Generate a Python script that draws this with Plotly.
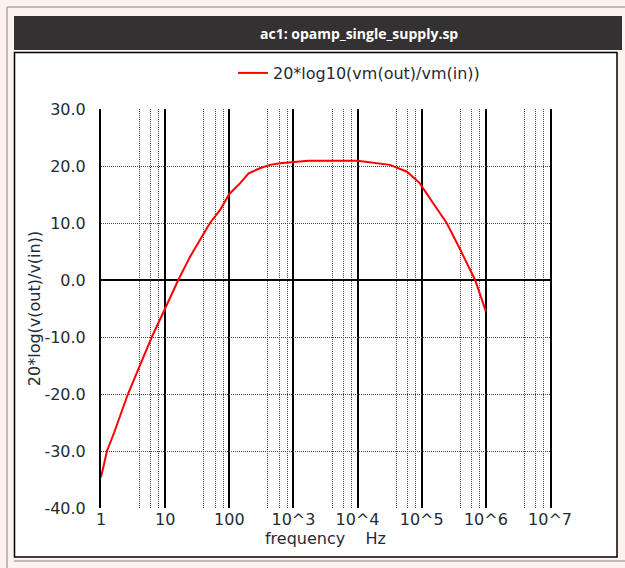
import plotly.graph_objects as go

# ---- data ----
freq_hz = [1, 1.24, 1.6, 2.63, 4.0, 6.2, 10, 16, 24.5, 35, 50, 72, 100, 148, 200,
           300, 430, 620, 1000, 1700, 10000, 15500, 32000, 59000, 93000,
           150000, 245000, 400000, 600000, 680000, 1000000]
gain_db = [-34.6, -30.0, -26.8, -20.0, -15.1, -10.0, -5.0, 0.0, 4.1, 7.0, 10.0, 12.3, 15.1, 17.0, 18.7,
           19.6, 20.2, 20.5, 20.7, 20.9, 20.9, 20.6, 20.2, 19.0, 17.0,
           13.5, 10.0, 5.3, 1.2, 0.0, -5.5]
series_name = "20*log10(vm(out)/vm(in))"

x_tickvals = [1, 10, 100, 1e3, 1e4, 1e5, 1e6, 1e7]
x_ticktext = ["1", "10", "100", "10^3", "10^4", "10^5", "10^6", "10^7"]
x_minor = [m * d for d in [1, 10, 100, 1e3, 1e4, 1e5, 1e6] for m in (4, 6, 8)]
y_tickvals = [30, 20, 10, 0, -10, -20, -30, -40]
y_ticktext = ["30.0", "20.0", "10.0", "0.0", "-10.0", "-20.0", "-30.0", "-40.0"]

W, H = 625, 568
L, R, T, B = 101, 550, 109, 508
TXT = "#1f2b38"
FONT = "DejaVu Sans"
FS = 16


def px(x):
    return (x - L) / (R - L)


def py(y):
    return (B - y) / (B - T)


fig = go.Figure()
# invisible carrier for the major-grid axis
fig.add_trace(go.Scatter(x=freq_hz, y=gain_db, mode="lines", xaxis="x", yaxis="y",
                         line=dict(color="rgba(0,0,0,0)", width=0), showlegend=False,
                         hoverinfo="skip"))
fig.add_trace(go.Scatter(x=freq_hz, y=gain_db, mode="lines", name=series_name,
                         xaxis="x2", yaxis="y",
                         line=dict(color="#ff0000", width=2), showlegend=True))

shapes = [
    dict(type="line", xref="paper", yref="paper", x0=px(7), x1=px(7), y0=py(7), y1=py(568),
         line=dict(color="#8a8683", width=1), layer="below"),
    dict(type="line", xref="paper", yref="paper", x0=px(7), x1=px(625), y0=py(7), y1=py(7),
         line=dict(color="#8a8683", width=1), layer="below"),
    dict(type="rect", xref="paper", yref="paper", x0=px(14), x1=px(622), y0=py(50), y1=py(16),
         fillcolor="#333131", line=dict(width=0), layer="below"),
    dict(type="rect", xref="paper", yref="paper", x0=px(14.5), x1=px(617), y0=py(557), y1=py(52.5),
         fillcolor="#ffffff", line=dict(color="#000000", width=1.5), layer="below"),
    dict(type="line", xref="paper", yref="paper", x0=px(14), x1=px(625), y0=py(561), y1=py(561),
         line=dict(color="#8a8683", width=1), layer="below"),
]

annotations = [
    dict(text="<b>ac1: opamp_single_supply.sp</b>", xref="paper", yref="paper",
         x=px(359), y=py(33), showarrow=False, xanchor="center", yanchor="middle",
         font=dict(family="Open Sans", size=14, color="#ffffff")),
]

fig.update_layout(
    width=W, height=H,
    margin=dict(l=L, r=W - R, t=T, b=H - B, autoexpand=False),
    paper_bgcolor="#fdf2ee",
    plot_bgcolor="#ffffff",
    font=dict(family=FONT, size=FS, color=TXT),
    shapes=shapes,
    annotations=annotations,
    showlegend=True,
    legend=dict(orientation="h", x=px(233), y=py(73), xanchor="left", yanchor="middle",
                bgcolor="rgba(0,0,0,0)", font=dict(family=FONT, size=FS, color=TXT),
                itemwidth=30),
    xaxis=dict(
        type="log", range=[0, 7],
        tickvals=x_tickvals, ticktext=x_ticktext,
        showgrid=True, gridcolor="#000000", gridwidth=2,
        zeroline=False, showline=False,
        ticks="",
        tickfont=dict(family=FONT, size=FS, color=TXT),
        title=dict(text="frequency\u00a0\u00a0\u00a0\u00a0Hz", standoff=1,
                   font=dict(family=FONT, size=FS, color=TXT)),
    ),
    xaxis2=dict(
        type="log", range=[0, 7], overlaying="x", anchor="y", side="bottom",
        tickvals=x_minor, showticklabels=False, ticks="",
        showgrid=True, gridcolor="#444444", gridwidth=1, griddash="1px,1px",
        zeroline=False, showline=False,
    ),
    yaxis=dict(
        range=[-40, 30],
        tickvals=y_tickvals, ticktext=y_ticktext,
        showgrid=True, gridcolor="#444444", gridwidth=1, griddash="1px,1px",
        zeroline=True, zerolinecolor="#000000", zerolinewidth=2,
        showline=True, linecolor="#000000", linewidth=2, mirror=True,
        ticks="outside", ticklen=10, tickcolor="rgba(0,0,0,0)",
        tickfont=dict(family=FONT, size=FS, color=TXT),
        title=dict(text="20*log(v(out)/v(in))", standoff=0,
                   font=dict(family=FONT, size=FS, color=TXT)),
    ),
)

fig.write_html("out.html", config={"displayModeBar": False},
               post_script="document.body.style.margin='0px';")
